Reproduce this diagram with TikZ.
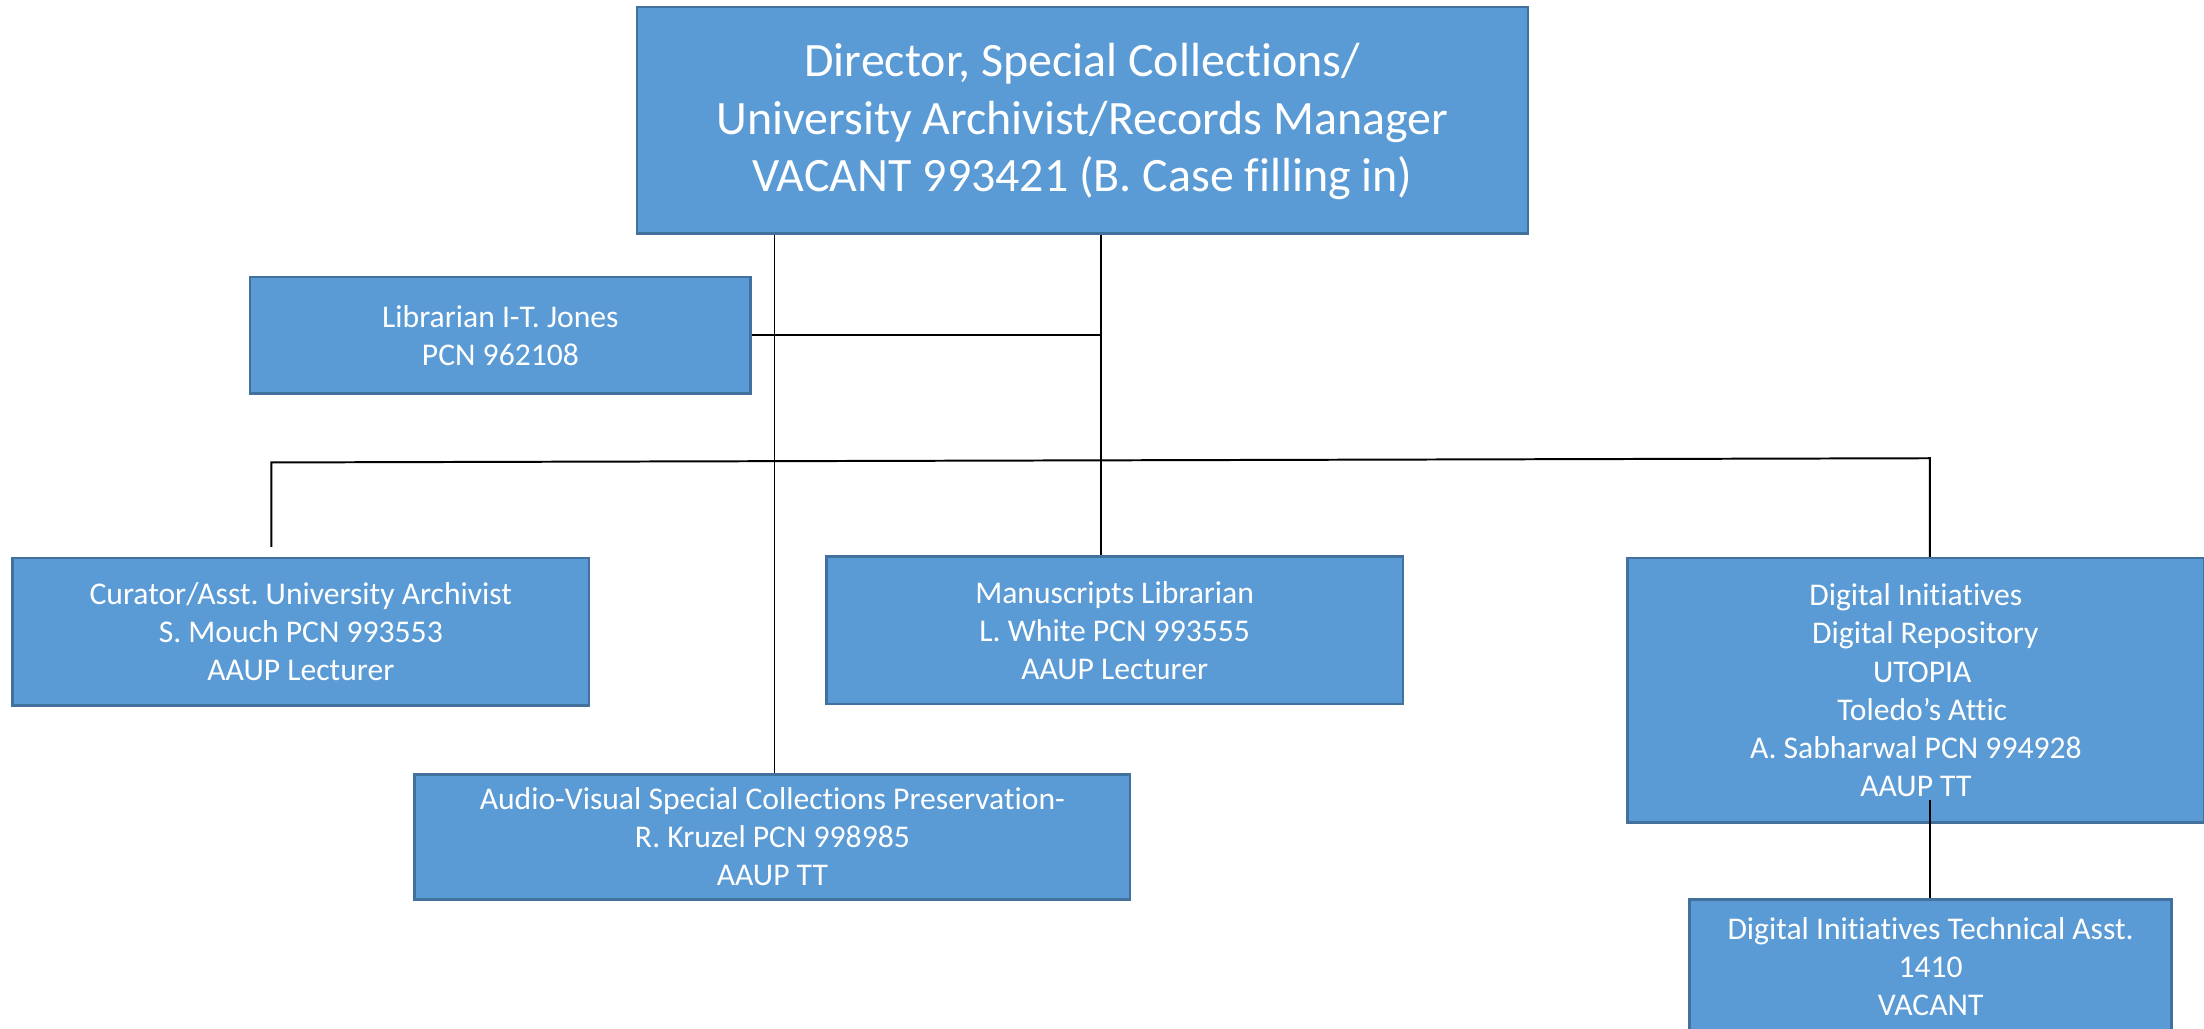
\documentclass[tikz,border=0pt]{standalone}
\usepackage{fontspec}
\setmainfont{Carlito}[Ligatures={NoCommon,NoRequired,NoContextual}]
\frenchspacing
\definecolor{boxfill}{HTML}{5B9BD5}
\definecolor{boxline}{HTML}{41719C}
\tikzset{
  orgbox/.style={draw=boxline, line width=1pt, fill=boxfill, text=white, align=center, inner sep=0pt},
  bigtext/.style={font=\fontsize{19.4}{23.3}\selectfont},
  smalltext/.style={font=\fontsize{12.8}{15.4}\selectfont},
  conn/.style={draw=black, line width=0.8pt}
}
\begin{document}
\begin{tikzpicture}
\useasboundingbox (0,0) rectangle (31.36,-14.64);
\clip (0,0) rectangle (31.36,-14.64);
\node[orgbox,bigtext,minimum width=12.68cm,minimum height=3.22cm,text depth=0.08cm] (top) at (15.4,-1.71) {Director, Special Collections/\\University Archivist/Records Manager\\VACANT 993421 (B. Case filling in)};
\node[orgbox,smalltext,minimum width=7.12cm,minimum height=1.66cm] (lib) at (7.12,-4.77) {Librarian I-T. Jones\\PCN 962108};
\node[orgbox,smalltext,minimum width=8.2cm,minimum height=2.1cm] (cur) at (4.28,-8.99) {Curator/Asst. University Archivist\\S. Mouch PCN 993553\\AAUP Lecturer};
\node[orgbox,smalltext,minimum width=8.2cm,minimum height=2.1cm] (man) at (15.86,-8.97) {Manuscripts Librarian\\L. White PCN 993555\\AAUP Lecturer};
\node[orgbox,smalltext,minimum width=8.2cm,minimum height=3.76cm] (dig) at (27.26,-9.82) {Digital Initiatives\\\hspace*{0.6em}Digital Repository\\\hspace*{0.4em}UTOPIA\\\hspace*{0.4em}Toledo's Attic\\A. Sabharwal PCN 994928\\AAUP TT};
\node[orgbox,smalltext,minimum width=10.18cm,minimum height=1.78cm] (av) at (10.99,-11.91) {Audio-Visual Special Collections Preservation-\\R. Kruzel PCN 998985\\AAUP TT};
\node[orgbox,smalltext,minimum width=6.86cm,minimum height=1.9cm] (tech) at (27.47,-13.75) {Digital Initiatives Technical Asst.\\1410\\VACANT};
% connectors
\coordinate (ax) at (11.02,0);
\coordinate (bx) at (15.66,0);
\coordinate (busL) at (3.86,-6.58);
\coordinate (busR) at (27.46,-6.52);
\coordinate (curTop) at (3.86,-7.78);
\coordinate (digLow) at (27.46,-11.38);
\draw[conn] (top.south -| ax) -- (av.north -| ax);
\draw[conn] (top.south -| bx) -- (man.north -| bx);
\draw[conn] (lib.east) -- (lib.east -| bx);
\draw[conn] (curTop) -- (busL) -- (busR) -- (dig.north -| busR);
\draw[conn] (digLow) -- (tech.north -| digLow);
\end{tikzpicture}
\end{document}
